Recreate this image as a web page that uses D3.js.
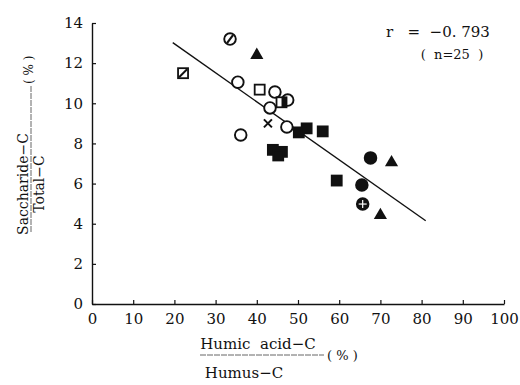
<!DOCTYPE html>
<html lang="en">
<head>
    <meta charset="UTF-8">
    <title>Saccharide-C vs Humic acid-C</title>
    <script src="https://cdnjs.cloudflare.com/ajax/libs/d3/7.8.5/d3.min.js"></script>
    <style>
        body { margin: 0; background: #fff; }
        svg text { font-family: "DejaVu Serif", "Liberation Serif", serif; fill: #111; }
    </style>
</head>
<body>
    <svg width="520" height="385"></svg>

    <script>
        // values
        const humicPct = [22.1, 33.5, 40.0, 35.4, 36.1, 40.7, 44.4, 47.5, 46.0, 43.2, 42.7, 47.3,
                          50.2, 52.1, 56.0, 43.9, 46.1, 45.2, 59.4, 67.6, 72.7, 65.5, 65.7, 70.0];
        const saccharidePct = [11.5, 13.2, 12.4, 11.05, 8.42, 10.68, 10.56, 10.16, 10.05, 9.77, 9.0, 8.82,
                               8.55, 8.75, 8.6, 7.68, 7.58, 7.4, 6.15, 7.28, 7.05, 5.93, 4.98, 4.42];
        const markerType = ["squareSlash", "circleSlash", "triangle", "circle", "circle", "square", "circle", "circle",
                            "squareHalf", "circle", "cross", "circle",
                            "squareFilled", "squareFilled", "squareFilled", "squareFilled", "squareFilled", "squareFilled",
                            "squareFilled", "circleFilled", "triangle", "circleFilled", "circleCross", "triangle"];
        const fitLine = [[19.6, 13.02], [81.0, 4.15]];
        const xTicks = [0, 10, 20, 30, 40, 50, 60, 70, 80, 90, 100];
        const yTicks = [0, 2, 4, 6, 8, 10, 12, 14];

        const serif = "DejaVu Serif";
        const svg = d3.select("svg");
        const x = d3.scaleLinear().domain([0, 100]).range([92, 504]);
        const y = d3.scaleLinear().domain([0, 14]).range([304, 23]);

        // axes: left and bottom only, ticks pointing inward
        const xAxis = svg.append("g").attr("transform", "translate(0,304)")
            .call(d3.axisBottom(x).tickValues(xTicks).tickSizeInner(-4).tickSizeOuter(0).tickPadding(9));
        const yAxis = svg.append("g").attr("transform", "translate(92,0)")
            .call(d3.axisLeft(y).tickValues(yTicks).tickSizeInner(-4).tickSizeOuter(0).tickPadding(9));
        [xAxis, yAxis].forEach(g => {
            g.attr("font-family", serif).attr("font-size", 15);
            g.select(".domain").attr("stroke", "#111").attr("stroke-width", 1.4);
            g.selectAll(".tick line").attr("stroke", "#111").attr("stroke-width", 1.2);
            g.selectAll("text").attr("fill", "#222");
        });

        // regression line
        svg.append("line")
            .attr("x1", x(fitLine[0][0])).attr("y1", y(fitLine[0][1]))
            .attr("x2", x(fitLine[1][0])).attr("y2", y(fitLine[1][1]))
            .attr("stroke", "#111").attr("stroke-width", 1.4);

        // markers
        const pts = svg.append("g");
        humicPct.forEach((hv, i) => {
            const cx = x(hv), cy = y(saccharidePct[i]);
            const g = pts.append("g").attr("transform", `translate(${cx},${cy})`);
            const t = markerType[i];
            if (t.startsWith("circle")) {
                g.append("circle").attr("r", 5.8)
                    .attr("fill", t === "circleFilled" ? "#111" : "#fff")
                    .attr("stroke", "#111").attr("stroke-width", 1.9);
                if (t === "circleSlash")
                    g.append("line").attr("x1", -3).attr("y1", 4).attr("x2", 3).attr("y2", -4)
                        .attr("stroke", "#111").attr("stroke-width", 2.2);
                if (t === "circleCross") {
                    g.append("circle").attr("r", 5.8).attr("fill", "#111");
                    g.append("line").attr("x1", -4).attr("x2", 4).attr("stroke", "#fff").attr("stroke-width", 1.2);
                    g.append("line").attr("y1", -4).attr("y2", 4).attr("stroke", "#fff").attr("stroke-width", 1.2);
                }
            } else if (t.startsWith("square")) {
                g.append("rect").attr("x", -5).attr("y", -5).attr("width", 10).attr("height", 10)
                    .attr("fill", t === "squareFilled" ? "#111" : "#fff")
                    .attr("stroke", "#111").attr("stroke-width", 1.8);
                if (t === "squareSlash")
                    g.append("line").attr("x1", -4).attr("y1", 4).attr("x2", 4).attr("y2", -4)
                        .attr("stroke", "#111").attr("stroke-width", 2);
                if (t === "squareHalf")
                    g.append("rect").attr("x", 0).attr("y", -5).attr("width", 5).attr("height", 10).attr("fill", "#111");
            } else if (t === "triangle") {
                g.append("path").attr("d", d3.symbol(d3.symbolTriangle, 75)()).attr("fill", "#111");
            } else if (t === "cross") {
                g.append("path").attr("d", "M-4,-4L4,4M-4,4L4,-4")
                    .attr("stroke", "#111").attr("stroke-width", 2);
            }
        });

        // r annotation
        svg.append("text").attr("x", 386).attr("y", 37).style("font-size", "15px")
            .attr("xml:space", "preserve").text("r   =  \u22120. 793");
        svg.append("text").attr("x", 452).attr("y", 59).attr("text-anchor", "middle")
            .style("font-size", "13px").attr("xml:space", "preserve").text("(  n=25  )");

        // x axis label (fraction)
        svg.append("text").attr("x", 258).attr("y", 349).attr("text-anchor", "middle")
            .style("font-size", "15px").attr("xml:space", "preserve").text("Humic  acid\u2212C");
        svg.append("line").attr("x1", 200).attr("x2", 324).attr("y1", 355).attr("y2", 355)
            .attr("stroke", "#666").attr("stroke-width", 1).attr("stroke-dasharray", "6,1");
        svg.append("text").attr("x", 327).attr("y", 360).style("font-size", "13px")
            .attr("xml:space", "preserve").text("( % )");
        svg.append("text").attr("x", 244).attr("y", 378).attr("text-anchor", "middle")
            .style("font-size", "15px").text("Humus\u2212C");

        // y axis label (fraction, rotated)
        const yl = svg.append("g").attr("transform", "rotate(-90)");
        yl.append("text").attr("x", -184).attr("y", 28).attr("text-anchor", "middle")
            .style("font-size", "14px").text("Saccharide\u2212C");
        yl.append("line").attr("x1", -232).attr("x2", -86).attr("y1", 31).attr("y2", 31)
            .attr("stroke", "#666").attr("stroke-width", 1).attr("stroke-dasharray", "6,1");
        yl.append("text").attr("x", -184).attr("y", 44).attr("text-anchor", "middle")
            .style("font-size", "14px").text("Total\u2212C");
        yl.append("text").attr("x", -84).attr("y", 33).style("font-size", "12px")
            .attr("xml:space", "preserve").text("( % )");
    </script>
</body>
</html>
